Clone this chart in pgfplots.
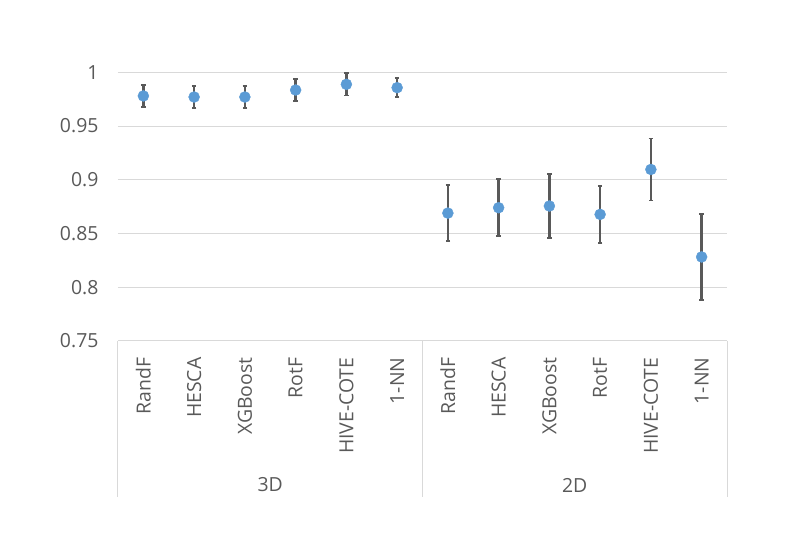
\documentclass[border=0pt]{standalone}
\usepackage{fontspec}
\setmainfont{Open Sans}
\usepackage{pgfplots}
\pgfplotsset{compat=1.18}
\definecolor{tickgray}{HTML}{595959}
\definecolor{gridgray}{HTML}{D9D9D9}
\definecolor{dotblue}{HTML}{5B9BD5}
\definecolor{errgray}{HTML}{595959}
\pgfplotstableread{
x y e
0 0.978 0.0105
1 0.977 0.0103
2 0.977 0.0103
3 0.9835 0.0103
4 0.9888 0.0103
5 0.9857 0.0088
6 0.869 0.0258
7 0.874 0.0265
8 0.8756 0.0300
9 0.8678 0.0266
10 0.9096 0.0288
11 0.8282 0.0397
}\datatable
\begin{document}
\begin{tikzpicture}[x=1bp,y=1bp]
\useasboundingbox (-118,-217) rectangle (671,341);
\begin{axis}[
  at={(0,0)}, anchor=south west,
  scale only axis, width=609bp, height=268.7bp,
  xmin=-0.5, xmax=11.5, ymin=0.75, ymax=1,
  xtick={0,...,11},
  xticklabels={RandF,HESCA,XGBoost,RotF,HIVE-COTE,1-NN,RandF,HESCA,XGBoost,RotF,HIVE-COTE,1-NN},
  xticklabel style={rotate=90, anchor=east, font=\fontsize{19.5}{23}\selectfont, text=tickgray},
  xticklabel shift=13bp,
  ytick={0.75,0.8,0.85,0.9,0.95,1},
  yticklabels={0.75,0.8,0.85,0.9,0.95,1},
  yticklabel style={font=\fontsize{19.5}{23}\selectfont, text=tickgray, anchor=east},
  yticklabel shift=16bp,
  axis line style={draw=none},
  major tick style={draw=none},
  ymajorgrids, major grid style={gridgray, line width=1bp},
  clip=false,
]
\addplot[only marks, mark=*, mark size=5.5bp,
  mark options={fill=dotblue, draw=dotblue},
  error bars/.cd, y dir=both, y explicit,
  error bar style={line width=2.3bp, errgray},
  error mark options={rotate=90, mark size=2.2bp, line width=1.8bp, errgray}]
  table[x=x, y=y, y error=e] {\datatable};
\draw[gridgray, line width=1bp] (axis cs:-0.5,0.75) -- ++(0bp,-156bp);
\draw[gridgray, line width=1bp] (axis cs:5.5,0.75) -- ++(0bp,-156bp);
\draw[gridgray, line width=1bp] (axis cs:11.5,0.75) -- ++(0bp,-156bp);
\node[font=\fontsize{19.5}{23}\selectfont, text=tickgray] at (axis cs:2.5,0.75) [yshift=-144bp] {3D};
\node[font=\fontsize{19.5}{23}\selectfont, text=tickgray] at (axis cs:8.5,0.75) [yshift=-144bp] {2D};
\end{axis}
\end{tikzpicture}
\end{document}
